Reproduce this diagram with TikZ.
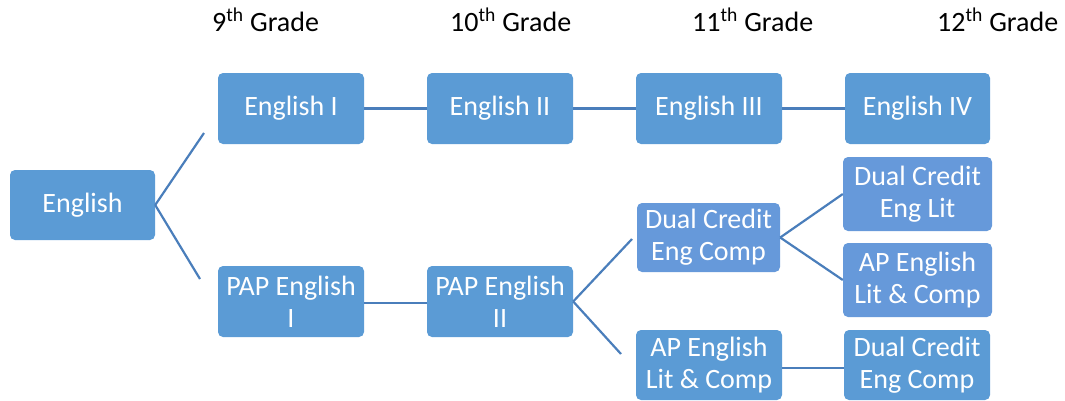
\documentclass[tikz,border=0pt]{standalone}
\usepackage{fontspec}
\setmainfont{Carlito}
\definecolor{boxblue}{HTML}{5B9BD5}
\definecolor{boxblueb}{HTML}{6699DA}
\definecolor{linkblue}{HTML}{4A7EBB}
\begin{document}
\begin{tikzpicture}[x=1pt,y=-1pt,
  box/.style={fill=boxblue, rounded corners=5pt, minimum width=146pt, minimum height=71pt,
    text=white, align=center, inner sep=0pt,
    font=\fontsize{28}{32}\selectfont},
  boxb/.style={box, fill=boxblueb},
  hdr/.style={anchor=base west, inner sep=0pt, font=\fontsize{28}{32}\selectfont},
  link/.style={draw=linkblue, line width=2.2pt}]
\useasboundingbox (0,0) rectangle (1065,400);
\node[hdr] (h9) at (212,31) {9\textsuperscript{th} Grade};
\node[hdr] (h10) at (450,31) {10\textsuperscript{th} Grade};
\node[hdr] (h11) at (692,31) {11\textsuperscript{th} Grade};
\node[hdr] (h12) at (937,31) {12\textsuperscript{th} Grade};

\node[box, minimum width=145pt, minimum height=70pt] (eng) at (82.5,205) {English};
\node[box] (e1) at (291,108.5) {English I};
\node[box] (e2) at (500,108.5) {English II};
\node[box] (e3) at (709,108.5) {English III};
\node[box, minimum width=145pt] (e4) at (917.5,108.5) {English IV};
\node[box] (p1) at (291,301.5) {PAP English\\I};
\node[box] (p2) at (500,301.5) {PAP English\\II};
\node[boxb, minimum width=143pt, minimum height=69pt] (dc11) at (708.5,237.5) {Dual Credit\\Eng Comp};
\node[box, minimum height=70pt] (ap11) at (709,365) {AP English\\Lit \& Comp};
\node[boxb, minimum width=149pt, minimum height=74pt] (dl12) at (917.5,194) {Dual Credit\\Eng Lit};
\node[boxb, minimum width=149pt, minimum height=74pt] (ap12) at (917.5,280) {AP English\\Lit \& Comp};
\node[box, minimum height=70pt] (dc12) at (917,365) {Dual Credit\\Eng Comp};

\coordinate (c1) at (204,133);
\coordinate (c2) at (200,279);
\coordinate (c3) at (632,239);
\coordinate (c4) at (621,354);

\draw[link] (eng.east) -- (c1);
\draw[link] (eng.east) -- (c2);
\draw[link] (e1) -- (e2);
\draw[link] (e2) -- (e3);
\draw[link] (e3) -- (e4);
\draw[link] ([yshift=-1.5pt]p1.east) -- ([yshift=-1.5pt]p2.west);
\draw[link] (p2.east) -- (c3);
\draw[link] (p2.east) -- (c4);
\draw[link] (dc11.east) -- (dl12.west);
\draw[link] (dc11.east) -- (ap12.west);
\draw[link] ([yshift=-3pt]ap11.east) -- ([yshift=-3pt]dc12.west);
\end{tikzpicture}
\end{document}
